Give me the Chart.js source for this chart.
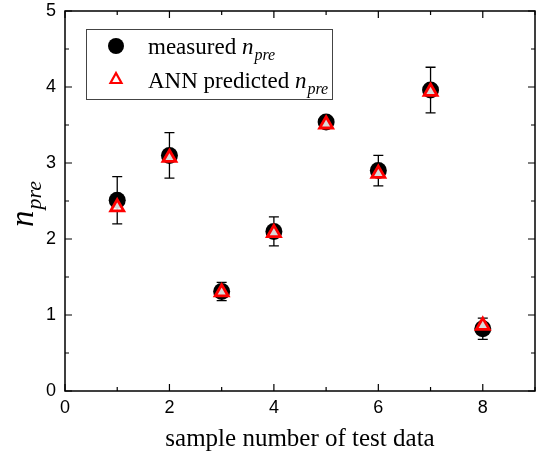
<!DOCTYPE html>
<html>
<head>
<meta charset="utf-8">
<script src="https://cdn.jsdelivr.net/npm/chart.js@4/dist/chart.umd.min.js"></script>
<style>
  html, body { margin: 0; padding: 0; background: #fff; }
  canvas { display: block; }
</style>
</head>
<body>
<canvas id="chart" width="537" height="456"></canvas>
<script>
// sample numbers and values
const samples = [1, 2, 3, 4, 5, 6, 7, 8];
const measured = [2.51, 3.10, 1.31, 2.10, 3.54, 2.90, 3.96, 0.82];
const measuredErr = [0.31, 0.30, 0.12, 0.19, 0.04, 0.20, 0.30, 0.14];
const predicted = [2.42, 3.07, 1.30, 2.08, 3.51, 2.86, 3.94, 0.86];
const xTicks = [0, 2, 4, 6, 8];
const yTicks = [0, 1, 2, 3, 4, 5];

const serif = '"Liberation Serif", "Times New Roman", serif';
const sans = '"Liberation Sans", Arial, sans-serif';

// error bars for measured, drawn under the markers
const errorBars = {
  id: 'errorBars',
  beforeDatasetsDraw(chart) {
    const ctx = chart.ctx;
    const xs = chart.scales.x, ys = chart.scales.y;
    ctx.save();
    ctx.strokeStyle = '#000';
    ctx.lineWidth = 1.3;
    samples.forEach((s, i) => {
      const px = xs.getPixelForValue(s);
      const top = ys.getPixelForValue(measured[i] + measuredErr[i]);
      const bot = ys.getPixelForValue(measured[i] - measuredErr[i]);
      ctx.beginPath();
      ctx.moveTo(px, top); ctx.lineTo(px, bot);
      ctx.moveTo(px - 5, top); ctx.lineTo(px + 5, top);
      ctx.moveTo(px - 5, bot); ctx.lineTo(px + 5, bot);
      ctx.stroke();
    });
    ctx.restore();
  }
};

// box frame with inward ticks on all four sides
const frame = {
  id: 'frame',
  afterDatasetsDraw(chart) {
    const ctx = chart.ctx;
    const a = chart.chartArea;
    const xs = chart.scales.x, ys = chart.scales.y;
    ctx.save();
    ctx.strokeStyle = '#000';
    ctx.lineWidth = 1.5;
    ctx.strokeRect(a.left, a.top, a.right - a.left, a.bottom - a.top);
    ctx.lineWidth = 1.2;
    ctx.beginPath();
    for (let v = 0; v <= 9; v += 1) {
      const px = xs.getPixelForValue(v);
      const len = v % 2 === 0 ? 7 : 4;
      ctx.moveTo(px, a.bottom); ctx.lineTo(px, a.bottom - len);
      ctx.moveTo(px, a.top); ctx.lineTo(px, a.top + len);
    }
    for (let v = 0; v <= 5; v += 0.5) {
      const py = ys.getPixelForValue(v);
      const len = Number.isInteger(v) ? 7 : 4;
      ctx.moveTo(a.left, py); ctx.lineTo(a.left + len, py);
      ctx.moveTo(a.right, py); ctx.lineTo(a.right - len, py);
    }
    ctx.stroke();
    ctx.restore();
  }
};

// y title and boxed legend, both with italic subscripts
function npre(ctx, x, y, big, small) {
  ctx.font = 'italic ' + big + 'px ' + serif;
  ctx.fillText('n', x, y);
  const w = ctx.measureText('n').width;
  ctx.font = 'italic ' + small + 'px ' + serif;
  ctx.fillText('pre', x + w + 1, y + small * 0.35);
}

const extras = {
  id: 'extras',
  afterDraw(chart) {
    const ctx = chart.ctx;
    ctx.save();
    ctx.fillStyle = '#000';
    ctx.textBaseline = 'alphabetic';
    ctx.textAlign = 'left';

    // y axis title
    ctx.save();
    ctx.translate(33, 227);
    ctx.rotate(-Math.PI / 2);
    npre(ctx, 0, 0, 33, 22);
    ctx.restore();

    // legend
    ctx.lineWidth = 1;
    ctx.strokeStyle = '#444';
    ctx.strokeRect(86.5, 29.5, 246, 70);
    ctx.fillStyle = '#000';
    ctx.beginPath();
    ctx.arc(116, 46, 8, 0, Math.PI * 2);
    ctx.fill();
    ctx.strokeStyle = '#f00';
    ctx.lineWidth = 2.2;
    ctx.beginPath();
    ctx.moveTo(116, 73); ctx.lineTo(121.5, 83); ctx.lineTo(110.5, 83);
    ctx.closePath();
    ctx.stroke();
    ctx.fillStyle = '#000';
    ctx.font = '23px ' + serif;
    ctx.fillText('measured ', 148, 54);
    let w = ctx.measureText('measured ').width;
    npre(ctx, 148 + w, 54, 23, 16);
    ctx.font = '23px ' + serif;
    ctx.fillText('ANN predicted ', 148, 88);
    w = ctx.measureText('ANN predicted ').width;
    npre(ctx, 148 + w, 88, 23, 16);
    ctx.restore();
  }
};

new Chart(document.getElementById('chart'), {
  type: 'scatter',
  data: {
    datasets: [
      {
        label: 'measured',
        data: samples.map((s, i) => ({ x: s, y: measured[i] })),
        pointStyle: 'circle',
        pointRadius: 8.5,
        backgroundColor: '#000',
        borderColor: '#000',
        borderWidth: 0,
        order: 2
      },
      {
        label: 'ANN predicted',
        data: samples.map((s, i) => ({ x: s, y: predicted[i] })),
        pointStyle: 'triangle',
        pointRadius: 7.5,
        backgroundColor: 'rgba(255,255,255,0.85)',
        borderColor: '#f00',
        borderWidth: 2.8,
        order: 1
      }
    ]
  },
  options: {
    responsive: false,
    animation: false,
    devicePixelRatio: 1,
    layout: { autoPadding: false, padding: { top: 11, right: 2, left: 0, bottom: 0 } },
    plugins: {
      legend: { display: false },
      tooltip: { enabled: false }
    },
    scales: {
      x: {
        type: 'linear',
        min: 0,
        max: 9,
        afterFit: (s) => { s.height = 65; },
        afterBuildTicks: (s) => { s.ticks = xTicks.map(v => ({ value: v })); },
        grid: { display: false, drawTicks: false },
        border: { display: false },
        ticks: { color: '#000', font: { family: sans, size: 18 }, padding: 6 },
        title: {
          display: true,
          text: 'sample number of test data',
          color: '#000',
          font: { family: serif, size: 25 },
          padding: { top: 0, bottom: 2 }
        }
      },
      y: {
        min: 0,
        max: 5,
        afterFit: (s) => { s.width = 65; s.paddingTop = 0; s.paddingBottom = 0; },
        afterBuildTicks: (s) => { s.ticks = yTicks.map(v => ({ value: v })); },
        grid: { display: false, drawTicks: false },
        border: { display: false },
        ticks: { color: '#000', font: { family: sans, size: 18 }, padding: 9 }
      }
    }
  },
  plugins: [errorBars, frame, extras]
});
</script>
</body>
</html>
